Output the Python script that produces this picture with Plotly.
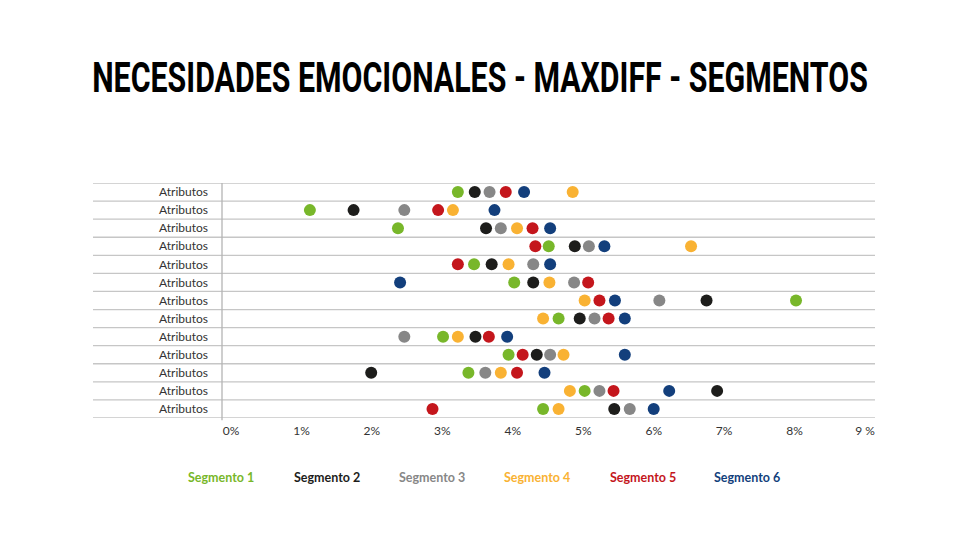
import plotly.graph_objects as go

rows = ["Atributos"] * 13
segments = ["Segmento 1", "Segmento 2", "Segmento 3", "Segmento 4", "Segmento 5", "Segmento 6"]
colors = ["#78b72a", "#1d1d1b", "#878787", "#f9b233", "#c4161c", "#133f7c"]

seg1 = [3.22, 1.12, 2.37, 4.51, 3.45, 4.02, 8.02, 4.65, 3.01, 3.94, 3.37, 5.02, 4.43]
seg2 = [3.46, 1.74, 3.62, 4.88, 3.70, 4.29, 6.75, 4.95, 3.47, 4.34, 1.99, 6.90, 5.44]
seg3 = [3.67, 2.46, 3.83, 5.08, 4.29, 4.87, 6.08, 5.16, 2.46, 4.53, 3.61, 5.23, 5.66]
seg4 = [4.85, 3.15, 4.06, 6.53, 3.94, 4.52, 5.02, 4.43, 3.22, 4.72, 3.83, 4.81, 4.65]
seg5 = [3.90, 2.94, 4.28, 4.32, 3.22, 5.07, 5.23, 5.36, 3.66, 4.14, 4.06, 5.43, 2.86]
seg6 = [4.16, 3.74, 4.53, 5.30, 4.53, 2.40, 5.45, 5.59, 3.92, 5.59, 4.45, 6.22, 6.00]
series = [seg1, seg2, seg3, seg4, seg5, seg6]

x_ticks = [0, 1, 2, 3, 4, 5, 6, 7, 8, 9]
x_ticktext = ["0%", "1%", "2%", "3%", "4%", "5%", "6%", "7%", "8%", "9 %"]

W, H = 969, 545
L, R, T, B = 222, 94, 183, 127
pw = W - L - R
ph = H - T - B

fig = go.Figure()
ypos = list(range(len(rows)))
for name, vals, col in zip(segments, series, colors):
    fig.add_trace(go.Scatter(x=vals, y=ypos, mode="markers", name=name,
                             marker=dict(size=12, color=col, line=dict(width=0)),
                             showlegend=False))

# row separators spanning label area
x0p = (93 - L) / pw
for k in range(len(rows) + 1):
    fig.add_shape(type="line", xref="paper", yref="y", x0=x0p, x1=1,
                  y0=k - 0.5, y1=k - 0.5, line=dict(color="#c6c6c6", width=1.3), layer="below")
# vertical axis line
fig.add_shape(type="line", xref="paper", yref="paper", x0=0, x1=0, y0=-0.01, y1=1,
              line=dict(color="#b4b4b4", width=1.3), layer="below")

# legend as colored text
leg_x = [221, 327, 432, 537, 643, 747]
for name, col, px in zip(segments, colors, leg_x):
    fig.add_annotation(xref="paper", yref="paper", x=(px - L) / pw, y=(H - B - 477) / ph,
                       xanchor="center", yanchor="middle",
                       text="<b>" + name + "</b>", showarrow=False,
                       font=dict(family="Lato", size=12.5, color=col))

fig.update_layout(
    width=W, height=H,
    margin=dict(l=L, r=R, t=T, b=B),
    paper_bgcolor="white", plot_bgcolor="white",
    title=dict(text="<b>NECESIDADES EMOCIONALES - MAXDIFF - SEGMENTOS</b>",
               x=480 / W, xanchor="center", y=1 - 77 / H, yanchor="middle",
               font=dict(family="Roboto", size=42, color="#000000")),
    xaxis=dict(range=[(222 - 231) / 70.45, (875 - 231) / 70.45], tickvals=x_ticks, ticktext=x_ticktext,
               showgrid=False, zeroline=False, showline=False, ticks="",
               tickfont=dict(family="Lato", size=12, color="#333333"), ticklabelstandoff=4),
    yaxis=dict(range=[len(rows) - 0.5, -0.5], tickvals=ypos, ticktext=rows,
               showgrid=False, zeroline=False, showline=False, ticks="",
               tickfont=dict(family="Lato", size=12, color="#333333"), ticklabelstandoff=13),
)

post = """
var t = document.querySelector('.gtitle');
if (t) {
  var bb = t.getBBox();
  var target = 776;
  var sx = target / bb.width;
  var cx = bb.x + bb.width / 2;
  var prev = t.getAttribute('transform') || '';
  t.setAttribute('transform', prev + ' translate(' + cx + ',0) scale(' + sx + ',1) translate(' + (-cx) + ',0)');
}
"""

fig.write_html("out.html", post_script=post)
